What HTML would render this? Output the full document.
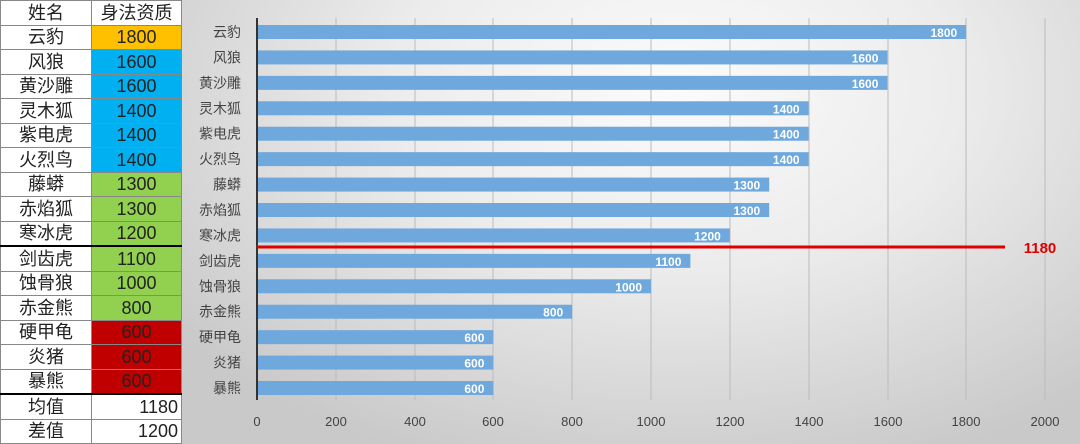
<!DOCTYPE html><html><head><meta charset="utf-8"><style>
body{margin:0;width:1080px;height:444px;overflow:hidden;background:#fff;font-family:"Liberation Sans","Noto Sans CJK SC",sans-serif;position:relative}
table{position:absolute;left:0;top:0;border-collapse:collapse;width:182px}
td{border:1px solid #888;height:23.5px;padding:0;font-size:18px;text-align:center;line-height:22px;color:#222}
td.n{width:90px}
.o{background:#ffc000}.b{background:#00b0f0}.g{background:#92d050}.r{background:#c00000}
.tk td{border-bottom:2px solid #000}
#ch{position:absolute;left:182px;top:0;width:898px;height:444px;background:radial-gradient(ellipse 70% 90% at 55% 20%,#fbfbfb 0%,#ececec 45%,#c9c9c9 100%)}
</style></head><body>
<table>
<tr><td class="n">姓名</td><td>身法资质</td></tr>
<tr><td>云豹</td><td class="o">1800</td></tr>
<tr><td>风狼</td><td class="b">1600</td></tr>
<tr><td>黄沙雕</td><td class="b">1600</td></tr>
<tr><td>灵木狐</td><td class="b">1400</td></tr>
<tr><td>紫电虎</td><td class="b">1400</td></tr>
<tr><td>火烈鸟</td><td class="b">1400</td></tr>
<tr><td>藤蟒</td><td class="g">1300</td></tr>
<tr><td>赤焰狐</td><td class="g">1300</td></tr>
<tr class="tk"><td>寒冰虎</td><td class="g">1200</td></tr>
<tr><td>剑齿虎</td><td class="g">1100</td></tr>
<tr><td>蚀骨狼</td><td class="g">1000</td></tr>
<tr><td>赤金熊</td><td class="g">800</td></tr>
<tr><td>硬甲龟</td><td class="r">600</td></tr>
<tr><td>炎猪</td><td class="r">600</td></tr>
<tr class="tk"><td>暴熊</td><td class="r">600</td></tr>
<tr><td>均值</td><td style="text-align:right;padding-right:3px">1180</td></tr>
<tr><td>差值</td><td style="text-align:right;padding-right:3px">1200</td></tr>
</table>
<div id="ch"></div>
<svg width="1080" height="444" style="position:absolute;left:0;top:0" font-family="Liberation Sans,Noto Sans CJK SC,sans-serif">
<g stroke="#bbb" stroke-width="1">
<line x1="336" y1="18" x2="336" y2="400"/><line x1="415" y1="18" x2="415" y2="400"/><line x1="493" y1="18" x2="493" y2="400"/><line x1="572" y1="18" x2="572" y2="400"/><line x1="651" y1="18" x2="651" y2="400"/><line x1="730" y1="18" x2="730" y2="400"/><line x1="809" y1="18" x2="809" y2="400"/><line x1="888" y1="18" x2="888" y2="400"/><line x1="966" y1="18" x2="966" y2="400"/><line x1="1045" y1="18" x2="1045" y2="400"/>
</g>
<g id="bars" fill="#6fa8dc"></g>
<line x1="257" y1="18" x2="257" y2="400" stroke="#333" stroke-width="2"/>
<line x1="257" y1="247" x2="1005" y2="247" stroke="#e00000" stroke-width="3"/>
<text x="1040" y="253" fill="#e00000" font-weight="bold" font-size="15" text-anchor="middle">1180</text>
<g font-size="13" fill="#444" text-anchor="middle">
<text x="257" y="426">0</text><text x="336" y="426">200</text><text x="415" y="426">400</text><text x="493" y="426">600</text><text x="572" y="426">800</text><text x="651" y="426">1000</text><text x="730" y="426">1200</text><text x="809" y="426">1400</text><text x="888" y="426">1600</text><text x="966" y="426">1800</text><text x="1045" y="426">2000</text>
</g>
<g id="lab"></g>
</svg>
<script>
var d=[["云豹",1800],["风狼",1600],["黄沙雕",1600],["灵木狐",1400],["紫电虎",1400],["火烈鸟",1400],["藤蟒",1300],["赤焰狐",1300],["寒冰虎",1200],["剑齿虎",1100],["蚀骨狼",1000],["赤金熊",800],["硬甲龟",600],["炎猪",600],["暴熊",600]];
var s="",l="";
d.forEach(function(e,i){var y=32+i*25.43,w=e[1]*0.394;
s+='<rect x="257" y="'+(y-7)+'" width="'+w+'" height="14"/>';
l+='<text x="'+(257+w-9)+'" y="'+(y+5)+'" font-size="12" font-weight="bold" fill="#fff" text-anchor="end">'+e[1]+'</text>';
l+='<text x="241" y="'+(y+5)+'" font-size="14" fill="#444" text-anchor="end">'+e[0]+'</text>';});
document.getElementById("bars").innerHTML=s;document.getElementById("lab").innerHTML=l;
</script>
</body></html>
